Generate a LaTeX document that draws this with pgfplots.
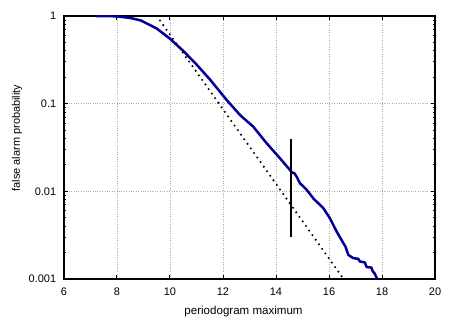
\documentclass[border=0pt]{standalone}
\usepackage{fontspec}
\setmainfont{Liberation Sans}
\usepackage{pgfplots}
\pgfplotsset{compat=1.18}
\definecolor{curveblue}{RGB}{0,0,150}

\begin{document}
\fontsize{11}{13}\selectfont
\begin{tikzpicture}
\begin{semilogyaxis}[
  scale only axis, width=371bp, height=263bp,
  xmin=6, xmax=20, ymin=0.001, ymax=1,
  xtick={6,8,...,20},
  ytick={0.001,0.01,0.1,1}, yticklabels={0.001,0.01,0.1,1},
  xlabel={periodogram maximum}, ylabel={false alarm probability},
  xlabel style={font=\fontsize{11.6}{13}\selectfont, at={(rel axis cs:0.484,-0.1217)}, anchor=center},
  ylabel style={font=\fontsize{11}{13}\selectfont, at={(rel axis cs:-0.1267,0.536)}, anchor=center},
  xticklabel style={yshift=-5bp},
  yticklabel style={xshift=-4bp},
  /pgf/number format/assume math mode=true,
  tick align=inside, major tick length=4.5bp, minor tick length=2.5bp,
  tick style={black, line width=1bp},
  axis line style={line width=1.9bp},
  grid=major, grid style={gray!65, dotted, line width=0.6bp},
]
% empirical false alarm probability
\addplot[curveblue, line width=2.5bp, line join=round] coordinates {
(7.2,1)(7.6,0.999)(8,0.99)(8.5,0.95)(8.9,0.89)(9.5,0.72)(10,0.55)(10.5,0.40)
(11,0.28)(11.5,0.19)(12.14,0.11)(12.64,0.0743)(13.14,0.0547)(13.65,0.0353)
(14.15,0.0238)(14.53,0.0175)(14.6,0.0165)(14.7,0.0160)(14.78,0.0147)(14.9,0.0124)
(15.16,0.0104)(15.41,0.0083)(15.79,0.0064)(16.04,0.0049)(16.29,0.00347)
(16.54,0.00257)(16.62,0.00235)(16.73,0.00188)(16.85,0.00178)(16.92,0.00173)
(17.1,0.00170)(17.17,0.00158)(17.35,0.00155)(17.42,0.00137)(17.6,0.00135)
(17.65,0.00122)(17.72,0.00116)(17.82,0.001)};
% asymptotic estimate
\addplot[black, line width=2.3bp, line cap=round, dash pattern=on 0pt off 5.6bp] coordinates {
(9.5,1)(16.55,0.001)};
% marker
\addplot[black, line width=1.9bp] coordinates {(14.55,0.003)(14.55,0.04)};
\coordinate (sw) at (rel axis cs:0,0);
\coordinate (ne) at (rel axis cs:1,1);
\end{semilogyaxis}
\pgfresetboundingbox
\path ([shift={(-64bp,-42bp)}]sw) rectangle ([shift={(23bp,16bp)}]ne);
\end{tikzpicture}
\end{document}
